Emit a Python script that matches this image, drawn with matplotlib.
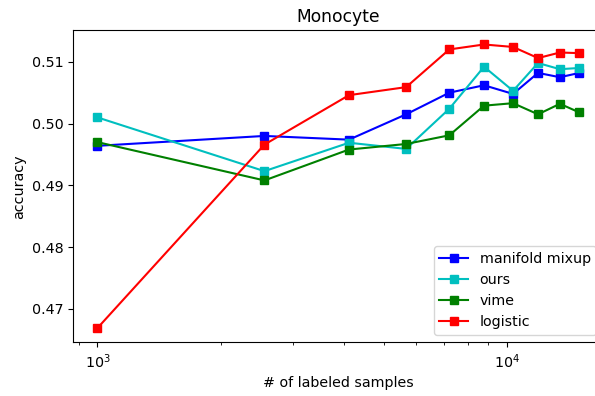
import matplotlib
matplotlib.use("Agg")
import matplotlib.pyplot as plt

# number of labeled samples per run
n_labeled = [1000, 2556, 4111, 5667, 7222, 8778, 10333, 11889, 13444, 15000]

acc_manifold_mixup = [0.4964, 0.4980, 0.4974, 0.5015, 0.5050, 0.5062, 0.5048, 0.5082, 0.5075, 0.5082]
acc_ours = [0.5010, 0.4923, 0.4969, 0.4959, 0.5024, 0.5092, 0.5053, 0.5098, 0.5088, 0.5090]
acc_vime = [0.4970, 0.4908, 0.4958, 0.4967, 0.4981, 0.5029, 0.5033, 0.5015, 0.5032, 0.5018]
acc_logistic = [0.4669, 0.4966, 0.5046, 0.5059, 0.5120, 0.5128, 0.5124, 0.5106, 0.5115, 0.5114]

plt.rcParams['font.size'] = 10.3

fig = plt.figure(figsize=(5.95, 3.96), dpi=100)
ax = fig.add_axes([73.3 / 595, 1 - 342.3 / 396, (603.5 - 73.3) / 595, (342.3 - 30.3) / 396])

ax.plot(n_labeled, acc_manifold_mixup, 'b-s', label='manifold mixup')
ax.plot(n_labeled, acc_ours, 'c-s', label='ours')
ax.plot(n_labeled, acc_vime, 'g-s', label='vime')
ax.plot(n_labeled, acc_logistic, 'r-s', label='logistic')

ax.set_xscale('log')
ax.set_xlabel('# of labeled samples')
ax.set_ylabel('accuracy')
ax.set_title('Monocyte')
ax.legend(loc='lower right')

fig.savefig('out.png', dpi=100)
